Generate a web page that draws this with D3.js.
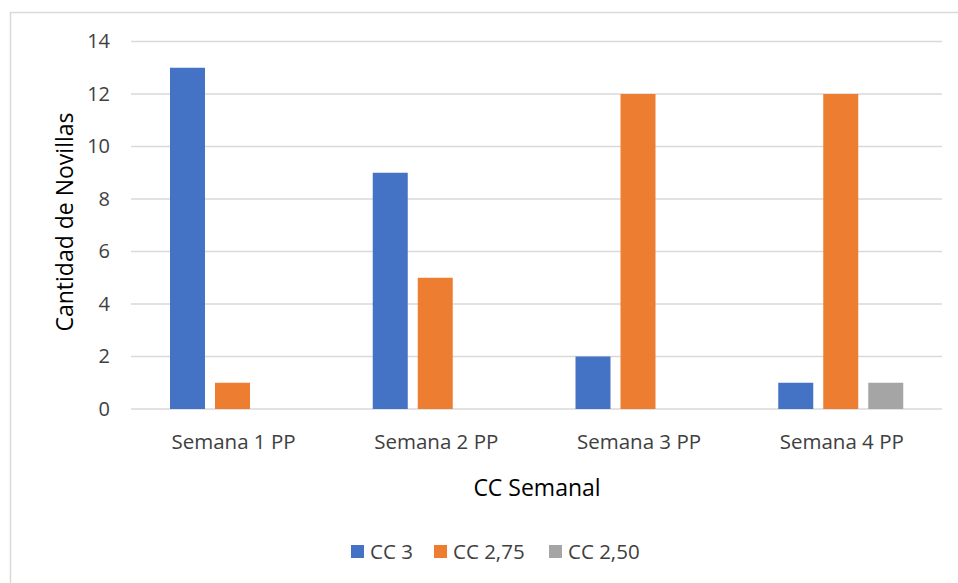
<!DOCTYPE html>
<html lang="es">
  <head>
    <meta charset="utf-8">
    <title>CC Semanal</title>
    <style>
      body { margin: 0; background: #fff; }
      svg { display: block; font-family: "Open Sans", "Noto Sans", sans-serif; }
      .grid line { stroke: #d9d9d9; stroke-width: 1.5; }
      .axis text { fill: #404040; font-family: "Open Sans", "Noto Sans", sans-serif; }
    </style>
  </head>
  <body>
    <script src="https://cdn.jsdelivr.net/npm/d3@7"></script>
    <script>
      // data
      const categories = ["Semana 1 PP", "Semana 2 PP", "Semana 3 PP", "Semana 4 PP"];
      const seriesNames = ["CC 3", "CC 2,75", "CC 2,50"];
      const cc3 = [13, 9, 2, 1];
      const cc275 = [1, 5, 12, 12];
      const cc250 = [0, 0, 0, 1];
      const yTicks = [0, 2, 4, 6, 8, 10, 12, 14];
      const colors = ["#4472c4", "#ed7d31", "#a5a5a5"];

      const values = [cc3, cc275, cc250];
      const w = 958, h = 583;
      const plotLeft = 131, plotRight = 942, plotTop = 41.5, plotBottom = 409;

      const svg = d3.select("body").append("svg")
        .attr("width", w)
        .attr("height", h);

      // chart border
      svg.append("rect")
        .attr("x", 10.5).attr("y", 12.5)
        .attr("width", w).attr("height", h)
        .attr("fill", "none")
        .attr("stroke", "#d9d9d9")
        .attr("stroke-width", 1.5);

      const x = d3.scaleBand()
        .domain(categories)
        .range([plotLeft, plotRight]);

      const xInner = d3.scaleBand()
        .domain(seriesNames)
        .range([39, 164])
        .paddingInner(10 / 45);

      const y = d3.scaleLinear()
        .domain([0, 14])
        .range([plotBottom, plotTop]);

      // gridlines
      svg.append("g")
        .attr("class", "grid")
        .selectAll("line")
        .data(yTicks)
        .enter()
        .append("line")
        .attr("x1", plotLeft)
        .attr("x2", plotRight)
        .attr("y1", d => y(d))
        .attr("y2", d => y(d));

      // y axis labels
      const yAxis = d3.axisLeft(y).tickValues(yTicks).tickSize(0).tickPadding(0);
      svg.append("g")
        .attr("class", "axis")
        .attr("transform", "translate(110, 0)")
        .call(yAxis)
        .call(g => g.select(".domain").remove())
        .selectAll("text")
        .attr("font-size", "20px");

      // bars
      const groups = svg.append("g")
        .selectAll("g")
        .data(categories)
        .enter()
        .append("g")
        .attr("transform", d => `translate(${x(d)}, 0)`);

      groups.selectAll("rect")
        .data((d, i) => seriesNames.map((s, j) => ({ s: s, v: values[j][i], c: colors[j] })))
        .enter()
        .append("rect")
        .filter(d => d.v > 0)
        .attr("x", d => xInner(d.s))
        .attr("width", xInner.bandwidth())
        .attr("y", d => y(d.v))
        .attr("height", d => y(0) - y(d.v))
        .attr("fill", d => d.c);

      // x axis labels
      const xAxis = d3.axisBottom(x).tickSize(0).tickPadding(0);
      svg.append("g")
        .attr("class", "axis")
        .attr("transform", `translate(${xInner.range()[0] + 62.5 - x.bandwidth() / 2 + 1}, 434)`)
        .call(xAxis)
        .call(g => g.select(".domain").remove())
        .selectAll("text")
        .attr("font-size", "20.5px");

      // axis titles
      svg.append("text")
        .attr("transform", "translate(73, 222) rotate(-90)")
        .attr("text-anchor", "middle")
        .attr("font-size", "23px")
        .attr("fill", "#000")
        .text("Cantidad de Novillas");

      svg.append("text")
        .attr("x", 537)
        .attr("y", 496)
        .attr("text-anchor", "middle")
        .attr("font-size", "23px")
        .attr("fill", "#000")
        .text("CC Semanal");

      // legend
      const legendX = [351, 434, 549];
      const legend = svg.append("g")
        .selectAll("g")
        .data(seriesNames)
        .enter()
        .append("g")
        .attr("transform", (d, i) => `translate(${legendX[i]}, 545)`);

      legend.append("rect")
        .attr("width", 13)
        .attr("height", 13)
        .attr("fill", (d, i) => colors[i]);

      legend.append("text")
        .attr("x", 19)
        .attr("y", 14)
        .attr("font-size", "20.5px")
        .attr("fill", "#404040")
        .text(d => d);
    </script>
  </body>
</html>
